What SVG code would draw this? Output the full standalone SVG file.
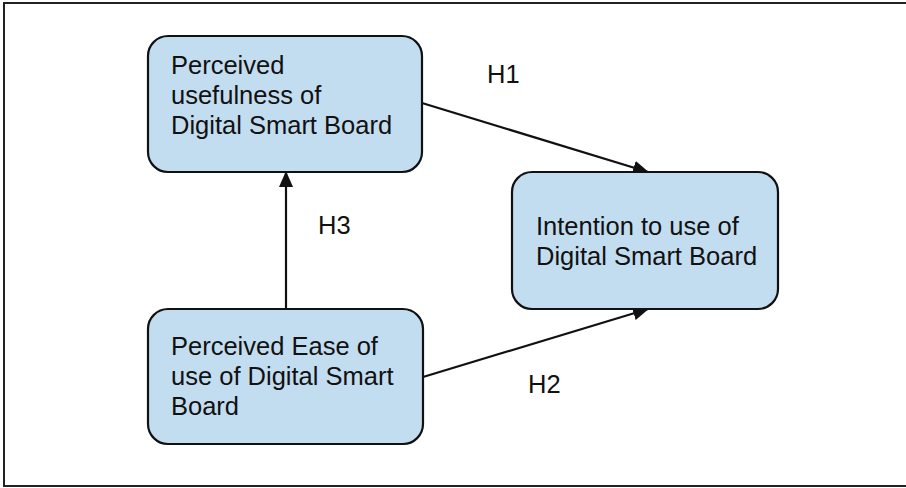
<svg xmlns="http://www.w3.org/2000/svg" width="906" height="488" viewBox="0 0 906 488">
<style>
.node{fill:#c3ddf0;stroke:#111;stroke-width:2.2}
.t{font-family:"Liberation Sans",Arial,sans-serif;font-size:25.5px;fill:#111}
.c{stroke:#111;stroke-width:2.2;fill:none;marker-end:url(#ah)}
</style>
<defs>
<marker id="ah" markerUnits="userSpaceOnUse" markerWidth="16" markerHeight="14" viewBox="0 0 16 14" refX="15" refY="7" orient="auto">
<path d="M0,0 L16,7 L0,14 Z" fill="#111"/>
</marker>
</defs>
<rect x="4" y="3" width="910" height="483" fill="#fff" stroke="#222" stroke-width="2"/>
<g id="connectors">
<line class="c" x1="422" y1="103" x2="648" y2="172"/>
<line class="c" x1="423" y1="377" x2="648" y2="309"/>
<line class="c" x1="286" y1="309" x2="286" y2="172"/>
</g>
<g id="n1">
<rect class="node" x="148" y="36" width="274" height="136" rx="20"/>
<text class="t" x="171" y="74">Perceived</text>
<text class="t" x="171" y="104">usefulness of</text>
<text class="t" x="171" y="134">Digital Smart Board</text>
</g>
<g id="n2">
<rect class="node" x="512" y="172" width="266" height="137" rx="20"/>
<text class="t" x="536" y="235">Intention to use of</text>
<text class="t" x="536" y="265">Digital Smart Board</text>
</g>
<g id="n3">
<rect class="node" x="148" y="309" width="275" height="135" rx="20"/>
<text class="t" x="171" y="355">Perceived Ease of</text>
<text class="t" x="171" y="385">use of Digital Smart</text>
<text class="t" x="171" y="415">Board</text>
</g>
<g id="labels">
<text class="t" x="487" y="83">H1</text>
<text class="t" x="318" y="234">H3</text>
<text class="t" x="528" y="393">H2</text>
</g>
</svg>
